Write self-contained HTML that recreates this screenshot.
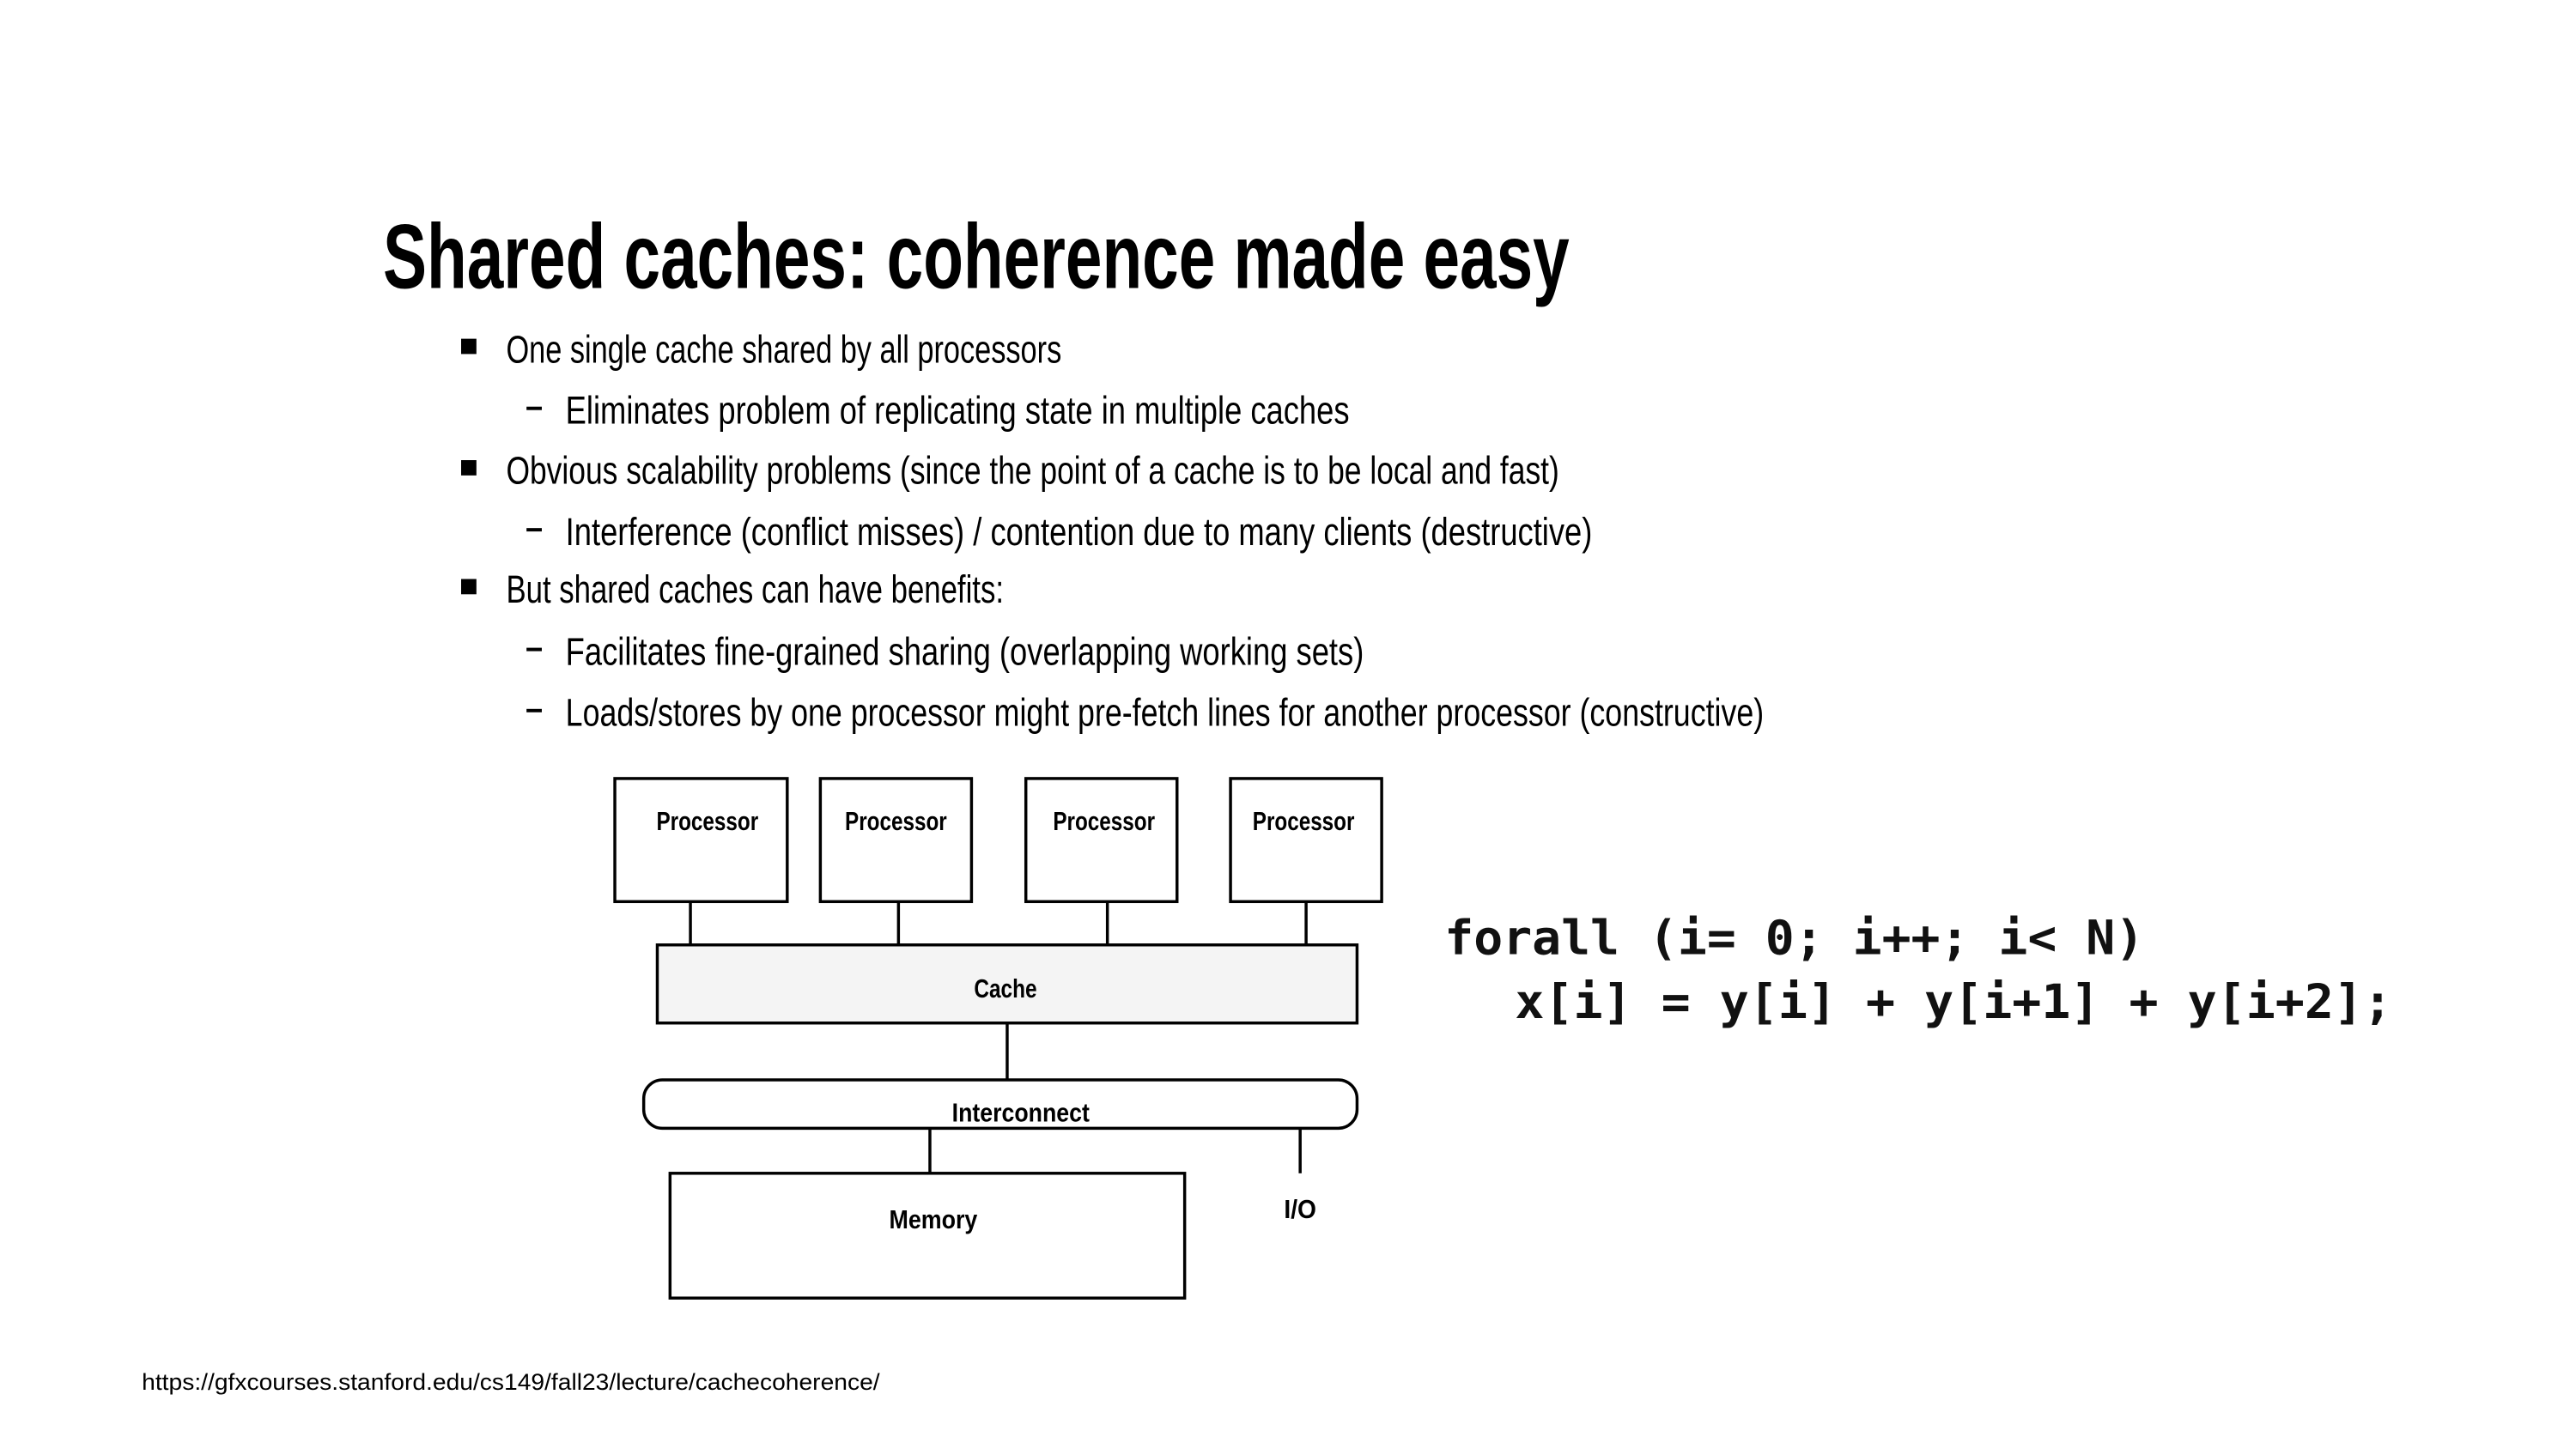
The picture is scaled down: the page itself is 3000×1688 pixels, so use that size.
<!DOCTYPE html>
<html><head><meta charset="utf-8"><style>
html,body{margin:0;padding:0;background:#fff;}
svg{display:block;}
</style></head><body>
<svg width="3000" height="1688" viewBox="0 0 3000 1688" xmlns="http://www.w3.org/2000/svg">
<rect width="3000" height="1688" fill="#fff"/>
<g transform="scale(0.989)">
<g font-family="Liberation Sans, sans-serif" fill="#000">
<text x="451" y="339" font-size="108" font-weight="bold" textLength="1397" lengthAdjust="spacingAndGlyphs">Shared caches: coherence made easy</text>
<g font-size="46">
<rect x="543" y="399" width="18" height="18"/>
<text x="596" y="427" textLength="654" lengthAdjust="spacingAndGlyphs">One single cache shared by all processors</text>
<rect x="620" y="479" width="18" height="4"/>
<text x="666" y="499" textLength="923" lengthAdjust="spacingAndGlyphs">Eliminates problem of replicating state in multiple caches</text>
<rect x="543" y="542" width="18" height="18"/>
<text x="596" y="570" textLength="1240" lengthAdjust="spacingAndGlyphs">Obvious scalability problems (since the point of a cache is to be local and fast)</text>
<rect x="620" y="622" width="18" height="4"/>
<text x="666" y="642" textLength="1209" lengthAdjust="spacingAndGlyphs">Interference (conflict misses) / contention due to many clients (destructive)</text>
<rect x="543" y="682" width="18" height="18"/>
<text x="596" y="710" textLength="586" lengthAdjust="spacingAndGlyphs">But shared caches can have benefits:</text>
<rect x="620" y="763" width="18" height="4"/>
<text x="666" y="783" textLength="940" lengthAdjust="spacingAndGlyphs">Facilitates fine-grained sharing (overlapping working sets)</text>
<rect x="620" y="835" width="18" height="4"/>
<text x="666" y="855" textLength="1411" lengthAdjust="spacingAndGlyphs">Loads/stores by one processor might pre-fetch lines for another processor (constructive)</text>
</g>
</g>
<g stroke="#000" stroke-width="3.5" fill="#fff">
<rect x="724" y="917" width="203" height="145"/>
<rect x="966" y="917" width="178" height="145"/>
<rect x="1208" y="917" width="178" height="145"/>
<rect x="1449" y="917" width="178" height="145"/>
<line x1="813" y1="1062" x2="813" y2="1113"/>
<line x1="1058" y1="1062" x2="1058" y2="1113"/>
<line x1="1304" y1="1062" x2="1304" y2="1113"/>
<line x1="1538" y1="1062" x2="1538" y2="1113"/>
<rect x="774" y="1113" width="824" height="92" fill="#f4f4f4"/>
<line x1="1186" y1="1205" x2="1186" y2="1272"/>
<rect x="758" y="1272" width="840" height="57" rx="22" ry="22"/>
<line x1="1095" y1="1329" x2="1095" y2="1382"/>
<line x1="1531" y1="1329" x2="1531" y2="1382"/>
<rect x="789" y="1382" width="606" height="147"/>
</g>
<g font-family="Liberation Sans, sans-serif" font-weight="bold" font-size="31" fill="#000" text-anchor="middle">
<text x="833" y="978" textLength="120" lengthAdjust="spacingAndGlyphs">Processor</text>
<text x="1055" y="978" textLength="120" lengthAdjust="spacingAndGlyphs">Processor</text>
<text x="1300" y="978" textLength="120" lengthAdjust="spacingAndGlyphs">Processor</text>
<text x="1535" y="978" textLength="120" lengthAdjust="spacingAndGlyphs">Processor</text>
<text x="1184" y="1175" textLength="74" lengthAdjust="spacingAndGlyphs">Cache</text>
<text x="1202" y="1321" textLength="162" lengthAdjust="spacingAndGlyphs">Interconnect</text>
<text x="1099" y="1447" textLength="104" lengthAdjust="spacingAndGlyphs">Memory</text>
<text x="1531" y="1435" textLength="38" lengthAdjust="spacingAndGlyphs">I/O</text>
</g>
<g font-family="DejaVu Sans Mono, monospace" font-weight="bold" font-size="56" fill="#111">
<text x="1701" y="1124" textLength="824" lengthAdjust="spacingAndGlyphs">forall (i= 0; i++; i&lt; N)</text>
<text x="1784" y="1199" textLength="1033" lengthAdjust="spacingAndGlyphs">x[i] = y[i] + y[i+1] + y[i+2];</text>
</g>
<text x="167" y="1637" font-family="Liberation Sans, sans-serif" font-size="27" fill="#000" textLength="869" lengthAdjust="spacingAndGlyphs">https://gfxcourses.stanford.edu/cs149/fall23/lecture/cachecoherence/</text>
</g>
</svg>
</body></html>
